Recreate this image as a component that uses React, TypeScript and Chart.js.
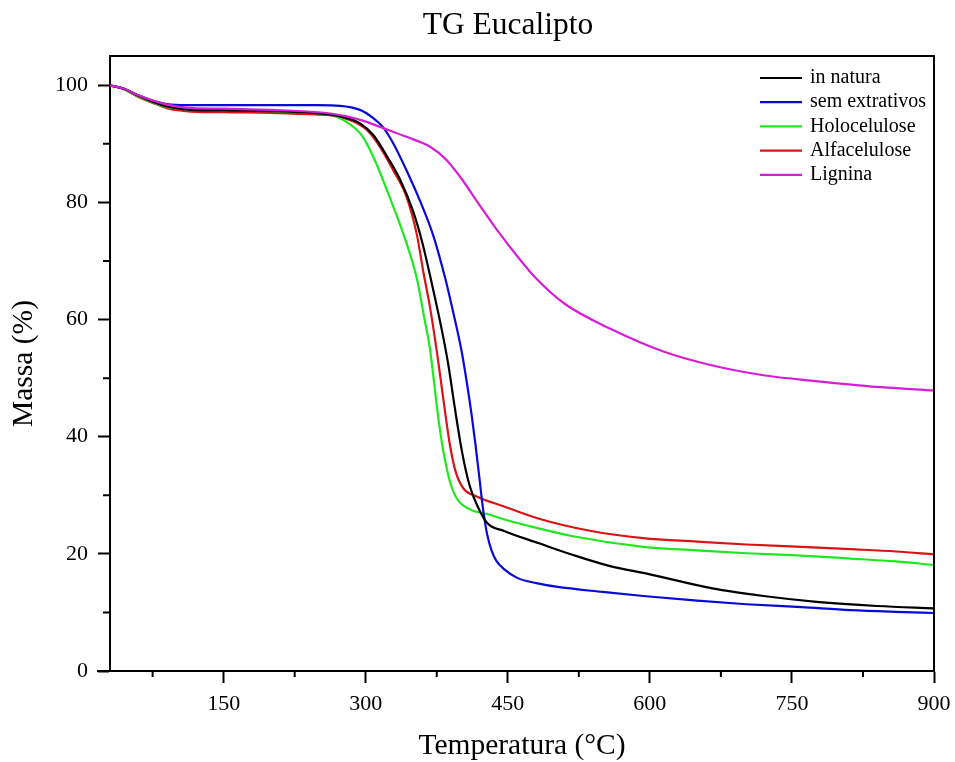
import React, { useEffect, useRef } from "react";
import { Chart, registerables } from "chart.js";

Chart.register(...registerables);

const TITLE = "TG Eucalipto";
const X_LABEL = "Temperatura (°C)";
const Y_LABEL = "Massa (%)";
const X_TICKS = [150, 300, 450, 600, 750, 900];
const X_MINOR = [75, 225, 375, 525, 675, 825];
const Y_TICKS = [0, 20, 40, 60, 80, 100];
const Y_MINOR = [10, 30, 50, 70, 90];

const SERIES_LABELS = ["in natura", "sem extrativos", "Holocelulose", "Alfacelulose", "Lignina"];
const SERIES_COLORS = ["#000000", "#0a0ad8", "#1ee81e", "#d81414", "#d61ed6"];

const inNaturaT = [30, 45, 60, 75, 90, 110, 150, 200, 250, 275, 294, 308, 322, 336, 350, 360, 370, 380, 387, 394, 401, 406, 410, 417, 428, 446, 483, 519, 556, 600, 666, 720, 776, 840, 900];
const inNaturaM = [100, 99.4, 98.2, 97.2, 96.4, 95.9, 95.7, 95.6, 95.2, 94.6, 93.5, 91.5, 88, 84, 78.5, 73, 66, 58.5, 52.5, 45, 38, 34, 31.5, 28.5, 25.3, 23.9, 21.8, 19.8, 18, 16.5, 14.1, 12.8, 11.8, 11.1, 10.7];

const semExtrativosT = [30, 45, 60, 75, 90, 110, 150, 200, 250, 273, 294, 308, 318, 329, 343, 357, 371, 384, 392, 401, 407, 412, 416, 420, 424, 428, 433, 438, 446, 460, 480, 501, 550, 593, 650, 702, 760, 812, 860, 900];
const semExtrativosM = [100, 99.4, 98.3, 97.4, 96.8, 96.6, 96.6, 96.6, 96.6, 96.5, 95.8, 94.4, 92.9, 90.1, 85.5, 80.4, 74.5, 67, 61.5, 54.8, 49, 43.5, 38.5, 33, 27.5, 23.5, 20.5, 18.8, 17.4, 15.9, 15, 14.4, 13.5, 12.8, 12, 11.4, 10.9, 10.4, 10.1, 9.9];

const holoceluloseT = [30, 45, 60, 75, 90, 110, 150, 200, 250, 270, 287, 297, 311, 325, 340, 354, 361, 368, 372, 376, 382, 389, 396, 410, 428, 452, 464, 519, 593, 650, 702, 760, 812, 860, 900];
const holoceluloseM = [100, 99.3, 98.1, 97.1, 96.3, 95.9, 95.7, 95.6, 95.2, 94.6, 92.9, 91.2, 86.7, 81, 74.5, 67, 61, 54.8, 49.5, 44, 37.5, 32.3, 29.5, 27.6, 26.8, 25.6, 25.1, 23, 21.2, 20.6, 20.1, 19.7, 19.2, 18.7, 18.1];

const alfaceluloseT = [30, 45, 60, 75, 90, 110, 150, 200, 250, 262, 287, 301, 315, 329, 343, 354, 361, 368, 376, 384, 389, 395, 403, 417, 446, 483, 538, 593, 650, 702, 760, 812, 860, 900];
const alfaceluloseM = [100, 99.3, 98, 97, 96.1, 95.6, 95.4, 95.3, 95, 94.9, 93.8, 92.4, 89.5, 85.5, 81, 74.5, 68, 62, 53.5, 44, 38.5, 34, 31.2, 29.8, 28.1, 26, 23.9, 22.7, 22.1, 21.6, 21.2, 20.8, 20.4, 19.9];

const ligninaT = [30, 45, 60, 75, 90, 110, 150, 200, 250, 280, 300, 320, 343, 368, 385, 400, 420, 440, 460, 480, 510, 560, 615, 665, 720, 775, 840, 900];
const ligninaM = [100, 99.4, 98.3, 97.4, 96.7, 96.2, 96, 95.8, 95.4, 94.7, 93.8, 92.6, 91.2, 89.5, 87.3, 84.3, 79.6, 75, 70.8, 67, 62.7, 58.3, 54.5, 52.2, 50.5, 49.5, 48.5, 47.9];

const SERIES_T = [inNaturaT, semExtrativosT, holoceluloseT, alfaceluloseT, ligninaT];
const SERIES_M = [inNaturaM, semExtrativosM, holoceluloseM, alfaceluloseM, ligninaM];

const FONT = "'Liberation Serif', 'Times New Roman', serif";

const decorPlugin = {
  id: "decor",
  afterDraw(chart: any) {
    const { ctx, chartArea: a, scales } = chart;
    ctx.save();
    ctx.strokeStyle = "#000";
    ctx.lineWidth = 2;
    ctx.beginPath();
    ctx.moveTo(a.left, a.top);
    ctx.lineTo(a.right, a.top);
    ctx.lineTo(a.right, a.bottom);
    ctx.moveTo(a.left - 13, a.bottom);
    ctx.lineTo(a.left, a.bottom);
    for (const v of X_MINOR) {
      const px = scales.x.getPixelForValue(v);
      ctx.moveTo(px, a.bottom);
      ctx.lineTo(px, a.bottom + 6);
    }
    for (const v of Y_MINOR) {
      const py = scales.y.getPixelForValue(v);
      ctx.moveTo(a.left, py);
      ctx.lineTo(a.left - 7, py);
    }
    ctx.stroke();

    // title
    ctx.fillStyle = "#000";
    ctx.font = `31.5px ${FONT}`;
    ctx.textAlign = "center";
    ctx.textBaseline = "alphabetic";
    ctx.fillText(TITLE, 508, 34);

    // legend
    ctx.font = `20px ${FONT}`;
    ctx.textAlign = "left";
    ctx.textBaseline = "middle";
    const lx0 = a.right - 174;
    const lx1 = a.right - 132;
    const tx = a.right - 124;
    chart.data.datasets.forEach((ds: any, i: number) => {
      const y = a.top + 22 + i * 24.2;
      ctx.strokeStyle = ds.borderColor;
      ctx.lineWidth = 2.2;
      ctx.beginPath();
      ctx.moveTo(lx0, y);
      ctx.lineTo(lx1, y);
      ctx.stroke();
      ctx.fillStyle = "#000";
      ctx.fillText(ds.label, tx, y);
    });
    ctx.restore();
  },
};

export default function App() {
  const ref = useRef<HTMLCanvasElement>(null);
  useEffect(() => {
    if (!ref.current) return;
    const datasets = SERIES_LABELS.map((label, i) => ({
      label,
      data: SERIES_T[i].map((t, j) => ({ x: t, y: SERIES_M[i][j] })),
      borderColor: SERIES_COLORS[i],
      backgroundColor: SERIES_COLORS[i],
      borderWidth: 2.2,
      pointRadius: 0,
      cubicInterpolationMode: "monotone" as const,
      fill: false,
      order: label === "Lignina" ? -1 : i,
    }));
    const chart = new Chart(ref.current, {
      type: "line",
      data: { datasets },
      plugins: [decorPlugin],
      options: {
        animation: false,
        responsive: false,
        layout: { padding: { left: 0, right: 21, top: 56, bottom: 0 } },
        plugins: { legend: { display: false }, tooltip: { enabled: false }, title: { display: false } },
        scales: {
          x: {
            type: "linear",
            min: 30,
            max: 900,
            afterBuildTicks: (s: any) => {
              s.ticks = X_TICKS.map((v) => ({ value: v }));
            },
            afterFit: (s: any) => {
              s.height = 91;
              s.paddingLeft = 0;
              s.paddingRight = 0;
            },
            grid: { drawOnChartArea: false, drawTicks: true, tickLength: 12, tickWidth: 2, tickColor: "#000" },
            border: { display: true, color: "#000", width: 2 },
            ticks: { color: "#000", font: { family: FONT, size: 22 }, padding: 8, maxRotation: 0 },
            title: {
              display: true,
              text: X_LABEL,
              color: "#000",
              font: { family: FONT, size: 29.5, lineHeight: 1 },
              padding: { top: 0, bottom: 1 },
            },
          },
          y: {
            type: "linear",
            min: 0,
            max: 105,
            afterBuildTicks: (s: any) => {
              s.ticks = Y_TICKS.map((v) => ({ value: v }));
            },
            afterFit: (s: any) => {
              s.width = 110;
              s.paddingTop = 0;
              s.paddingBottom = 0;
            },
            grid: { drawOnChartArea: false, drawTicks: true, tickLength: 12, tickWidth: 2, tickColor: "#000" },
            border: { display: true, color: "#000", width: 2 },
            ticks: { color: "#000", font: { family: FONT, size: 22 }, padding: 10 },
            title: {
              display: true,
              text: Y_LABEL,
              color: "#000",
              font: { family: FONT, size: 29.5, lineHeight: 1 },
              padding: { top: 9, bottom: 0 },
            },
          },
        },
      },
    });
    return () => chart.destroy();
  }, []);
  return (
    <div style={{ position: "fixed", left: 0, top: 0, width: 955, height: 762, background: "#fff" }}>
      <canvas ref={ref} width={955} height={762} style={{ display: "block" }} />
    </div>
  );
}
